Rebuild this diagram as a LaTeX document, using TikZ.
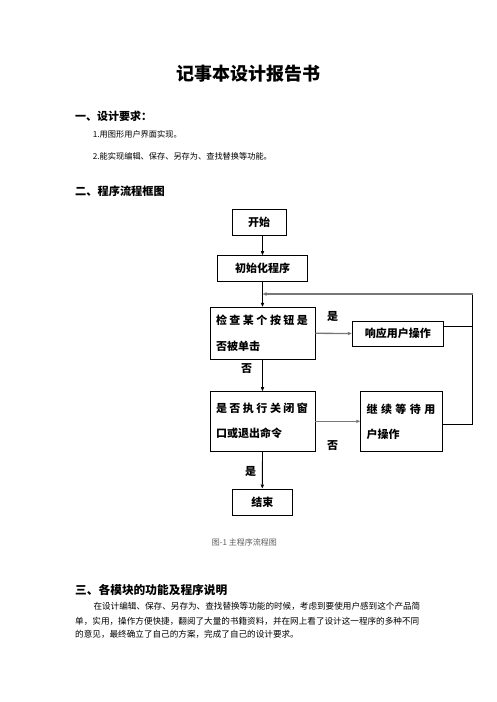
\documentclass[tikz,border=0pt]{standalone}
\usepackage{fontspec}
\setmainfont{Noto Sans CJK SC}
\usetikzlibrary{arrows.meta}
\definecolor{arrgray}{RGB}{120,120,120}
\definecolor{capgray}{RGB}{90,90,90}
\tikzset{
  txt/.style={inner sep=0pt, anchor=west, text=black},
  fbox/.style={draw=black, line width=0.9pt, inner sep=0pt, font=\fontsize{11}{11}\selectfont\bfseries},
  fbox2/.style={fbox, align=left, font=\fontsize{11}{25}\selectfont\bfseries},
  blk/.style={draw=black, line width=0.9pt},
  blkarr/.style={blk, -{Triangle[length=4pt,width=3.2pt]}},
  grayarr/.style={draw=arrgray, line width=1.3pt, -{Triangle[length=4pt,width=3.2pt]}},
  lbl/.style={inner sep=0pt, font=\fontsize{11}{11}\selectfont\bfseries},
}
\begin{document}
\begin{tikzpicture}[x=1pt,y=-1pt]
\useasboundingbox (0,0) rectangle (496,702);
% headings
\node[inner sep=0pt, font=\fontsize{18}{18}\selectfont\bfseries] (title) at (248.3,74) {记事本设计报告书};
\node[txt, font=\fontsize{11}{11}\selectfont\bfseries] (h1) at (75,116.7) {一、设计要求：};
\node[txt, font=\fontsize{8.2}{8.2}\selectfont] (i1) at (92.7,134.3) {1.用图形用户界面实现。};
\node[txt, font=\fontsize{8.2}{8.2}\selectfont] (i2) at (92.7,156) {2.能实现编辑、保存、另存为、查找替换等功能。};
\node[txt, font=\fontsize{11.2}{11.2}\selectfont\bfseries] (h2) at (75,191.7) {二、程序流程框图};
% flowchart nodes
\node[fbox, minimum width=54pt, minimum height=26pt] (start) at (259,222) {开始};
\node[fbox, minimum width=90pt, minimum height=25.3pt] (init) at (262.5,268.3) {初始化程序};
\node[fbox2, minimum width=105pt, minimum height=52pt, text width=93pt, font=\fontsize{11}{26}\selectfont\bfseries] (check) at (262.5,333.3)
  {\makebox[92pt][s]{检\hfill 查\hfill 某\hfill 个\hfill 按\hfill 钮\hfill 是}\\否被单击};
\node[fbox, minimum width=91pt, minimum height=25pt] (resp) at (397.8,333.5) {响应用户操作};
\node[fbox2, minimum width=105pt, minimum height=59.3pt, text width=93pt] (close) at (262.5,421.3)
  {\makebox[92pt][s]{是\hfill 否\hfill 执\hfill 行\hfill 关\hfill 闭\hfill 窗}\\口或退出命令};
\node[fbox2, minimum width=81.6pt, minimum height=59.3pt, text width=70pt] (wait) at (401.5,421.3)
  {\makebox[69pt][s]{继\hfill 续\hfill 等\hfill 待\hfill 用}\\户操作};
\node[fbox, minimum width=60pt, minimum height=26.7pt] (end) at (262.3,502.3) {结束};
% loop coordinates
\coordinate (loopR) at (472.7,294);
% connectors
\draw[blkarr] (start.south -| init.north) -- (init.north);
\draw[blkarr] (init.south) -- (check.north);
\draw[grayarr] (check.east) -- (resp.west);
\draw[blk] ([yshift=7pt]resp.east) -- ([yshift=7pt]resp.east -| loopR);
\draw[blk] ([yshift=-2.7pt]wait.east) -- ([yshift=-2.7pt]wait.east -| loopR) -- (loopR);
\draw[grayarr] (loopR) -- (loopR -| init.south);
\draw[blkarr] (check.south) -- (close.north);
\draw[grayarr] (close.east) -- (wait.west);
\draw[blkarr] (close.south) -- (end.north);
% labels
\node[lbl] (yes1) at (332.7,316) {是};
\node[lbl] (no1) at (246.7,369) {否};
\node[lbl] (no2) at (332.7,446) {否};
\node[lbl] (yes2) at (250.7,471.7) {是};
% caption
\node[txt, text=capgray, font=\fontsize{8}{8}\selectfont] (cap) at (211.7,542.7) {图-1 主程序流程图};
% section 3
\node[txt, font=\fontsize{11.7}{11.7}\selectfont\bfseries] (h3) at (75,590) {三、各模块的功能及程序说明};
\node[txt, font=\fontsize{8.6}{8.6}\selectfont] (p1) at (93.3,606.7) {在设计编辑、保存、另存为、查找替换等功能的时候，考虑到要使用户感到这个产品简};
\node[txt, font=\fontsize{8.6}{8.6}\selectfont] (p2) at (75,621.7) {单，实用，操作方便快捷，翻阅了大量的书籍资料，并在网上看了设计这一程序的多种不同};
\node[txt, font=\fontsize{8.6}{8.6}\selectfont] (p3) at (75,634) {的意见，最终确立了自己的方案，完成了自己的设计要求。};
\end{tikzpicture}
\end{document}
